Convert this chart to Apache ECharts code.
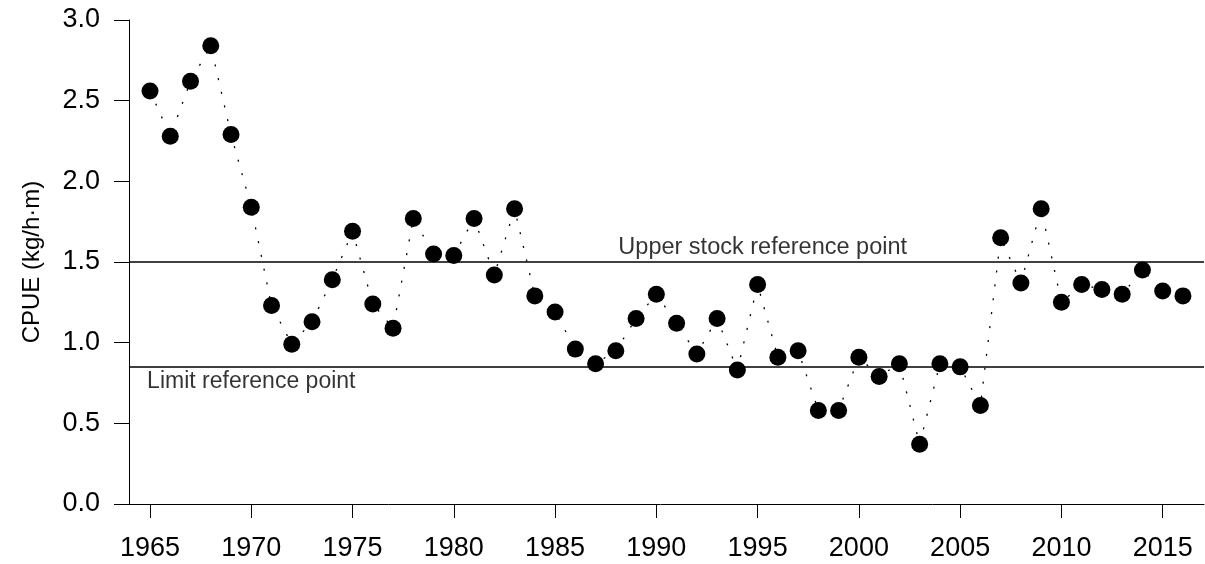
<!DOCTYPE html>
<html><head><meta charset="utf-8">
<script src="https://cdn.jsdelivr.net/npm/echarts@6/dist/echarts.min.js"></script>
<style>html,body{margin:0;padding:0;background:#fff}#c{width:1205px;height:564px}</style>
</head><body><div id="c"></div>
<script>
const years = [1965,1966,1967,1968,1969,1970,1971,1972,1973,1974,1975,1976,1977,1978,1979,1980,1981,1982,1983,1984,1985,1986,1987,1988,1989,1990,1991,1992,1993,1994,1995,1996,1997,1998,1999,2000,2001,2002,2003,2004,2005,2006,2007,2008,2009,2010,2011,2012,2013,2014,2015,2016];
const cpue = [2.56,2.28,2.62,2.84,2.29,1.84,1.23,0.99,1.13,1.39,1.69,1.24,1.09,1.77,1.55,1.54,1.77,1.42,1.83,1.29,1.19,0.96,0.87,0.95,1.15,1.30,1.12,0.93,1.15,0.83,1.36,0.91,0.95,0.58,0.58,0.91,0.79,0.87,0.37,0.87,0.85,0.61,1.65,1.37,1.83,1.25,1.36,1.33,1.30,1.45,1.32,1.29];
const xTicks = [1965,1970,1975,1980,1985,1990,1995,2000,2005,2010,2015];
const xMin = 1963.37, xMax = 2017.04, refStart = 1963.96;
const yMin = 0, yMax = 3, yStep = 0.5;
const upperRef = 1.5, limitRef = 0.85;
const upperLabel = 'Upper stock reference point', upperLabelAt = [1995.25, 1.5];
const limitLabel = 'Limit reference point', limitLabelAt = [1970.0, 0.85];
const yName = 'CPUE (kg/h·m)';

const FONT = 'Liberation Sans, Arial, Helvetica, sans-serif';
const chart = echarts.init(document.getElementById('c'), null, {renderer: 'canvas'});
chart.setOption({
  animation: false,
  backgroundColor: '#fff',
  grid: {left: 117, right: 1, top: 20, bottom: 60, containLabel: false},
  xAxis: {
    type: 'value', min: xMin, max: xMax,
    splitLine: {show: false},
    axisLine: {onZero: false, lineStyle: {color: '#000', width: 1}},
    axisTick: {customValues: xTicks, length: 14, lineStyle: {color: '#000', width: 1}},
    axisLabel: {customValues: xTicks, margin: 31, color: '#000', fontSize: 27, fontFamily: FONT,
      formatter: v => String(Math.round(v))}
  },
  yAxis: {
    type: 'value', min: yMin, max: yMax, interval: yStep, offset: -12,
    name: yName, nameLocation: 'middle', nameGap: 85, nameRotate: 90,
    nameTextStyle: {color: '#000', fontSize: 24, fontFamily: FONT},
    splitLine: {show: false},
    axisLine: {show: true, lineStyle: {color: '#000', width: 1}},
    axisTick: {length: 15, lineStyle: {color: '#000', width: 1}},
    axisLabel: {margin: 29, color: '#000', fontSize: 27, fontFamily: FONT,
      formatter: v => v.toFixed(1)}
  },
  series: [
    {
      type: 'line',
      data: years.map((y, i) => [y, cpue[i]]),
      symbol: 'circle', symbolSize: 17,
      itemStyle: {color: '#000'},
      lineStyle: {color: '#000', width: 1.3, type: [2, 12]},
      z: 3,
      markLine: {
        silent: true, symbol: 'none', label: {show: false},
        lineStyle: {color: '#000', width: 1.5, type: 'solid'},
        data: [
          [{coord: [refStart, upperRef]}, {coord: [xMax, upperRef]}],
          [{coord: [refStart, limitRef]}, {coord: [xMax, limitRef]}]
        ]
      }
    },
    {
      type: 'scatter', symbolSize: 0, silent: true,
      data: [{value: upperLabelAt, label: {position: 'top', distance: 2, fontSize: 23.5, formatter: upperLabel}},
             {value: limitLabelAt, label: {position: 'bottom', distance: 3, fontSize: 23, formatter: limitLabel}}],
      label: {show: true, color: '#000', fontFamily: FONT}
    }
  ]
});
</script></body></html>
